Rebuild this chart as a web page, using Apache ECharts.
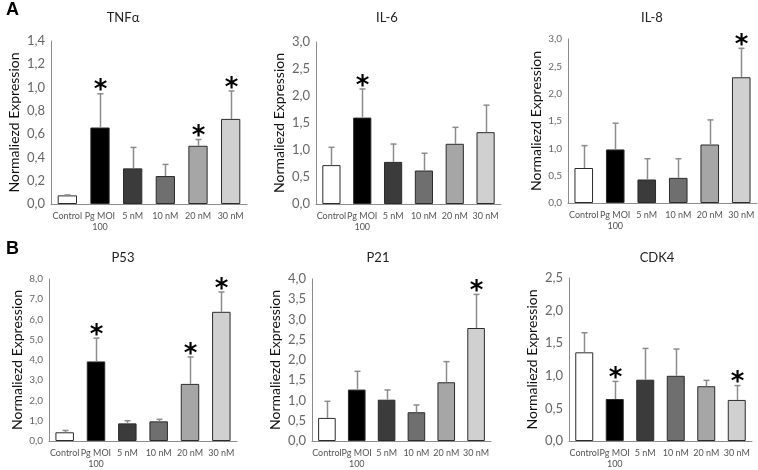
<!DOCTYPE html>
<html><head><meta charset="utf-8">
<script src="https://cdn.jsdelivr.net/npm/echarts@6/dist/echarts.min.js"></script>
<style>html,body{margin:0;padding:0;background:#fff}#c{width:758px;height:470px}</style>
</head><body><div id="c"></div>
<script>
const categories = ['Control', 'Pg MOI\n100', '5 nM', '10 nM', '20 nM', '30 nM'];
const barColors = ['#ffffff', '#000000', '#3b3b3b', '#6f6f6f', '#a6a6a6', '#d0d0d0'];

const tnfMean = [0.074, 0.657, 0.306, 0.24, 0.50, 0.731];
const tnfSd   = [0.004, 0.29, 0.18, 0.10, 0.054, 0.24];
const tnfSig  = [0, 1, 0, 0, 1, 1];

const il6Mean = [0.72, 1.60, 0.78, 0.62, 1.115, 1.33];
const il6Sd   = [0.33, 0.53, 0.33, 0.32, 0.305, 0.50];
const il6Sig  = [0, 1, 0, 0, 0, 0];

const il8Mean = [0.64, 0.98, 0.43, 0.46, 1.07, 2.30];
const il8Sd   = [0.41, 0.48, 0.38, 0.35, 0.45, 0.53];
const il8Sig  = [0, 0, 0, 0, 0, 1];

const p53Mean = [0.43, 3.93, 0.87, 0.97, 2.82, 6.38];
const p53Sd   = [0.09, 1.15, 0.13, 0.10, 1.33, 0.98];
const p53Sig  = [0, 1, 0, 0, 1, 1];

const p21Mean = [0.57, 1.27, 1.02, 0.71, 1.45, 2.79];
const p21Sd   = [0.41, 0.45, 0.24, 0.18, 0.51, 0.83];
const p21Sig  = [0, 0, 0, 0, 0, 1];

const cdk4Mean = [1.36, 0.644, 0.94, 1.00, 0.84, 0.63];
const cdk4Sd   = [0.30, 0.27, 0.48, 0.41, 0.09, 0.22];
const cdk4Sig  = [0, 1, 0, 0, 0, 1];

const panelTitles = ['TNFα', 'IL-6', 'IL-8', 'P53', 'P21', 'CDK4'];
const yMax = [1.4, 3.0, 3.0, 8.0, 4.0, 2.5];
const yInterval = [0.2, 0.5, 0.5, 1.0, 0.5, 0.5];
const yAxisName = 'Normaliezd Expression';

const panelData = [
  [tnfMean, tnfSd, tnfSig], [il6Mean, il6Sd, il6Sig], [il8Mean, il8Sd, il8Sig],
  [p53Mean, p53Sd, p53Sig], [p21Mean, p21Sd, p21Sig], [cdk4Mean, cdk4Sd, cdk4Sig]
];

// layout (pixels)
const grids = [
  {left: 51, top: 41, width: 196, height: 163},
  {left: 316, top: 42, width: 185, height: 162},
  {left: 568, top: 39, width: 189, height: 164},
  {left: 49, top: 279, width: 188, height: 163},
  {left: 312, top: 279, width: 179, height: 163},
  {left: 569, top: 278, width: 183, height: 164}
];
const tickFont = [13, 13, 10, 10, 13, 13];
const titlePos = [[123, 18], [387, 18], [652, 18], [123, 258], [378, 258], [657, 258]];
const FONT = 'Lato, "Open Sans", sans-serif';

const chart = echarts.init(document.getElementById('c'));
const option = {
  animation: false,
  backgroundColor: '#fff',
  grid: grids.map(g => Object.assign({containLabel: false}, g)),
  xAxis: grids.map((g, i) => ({
    type: 'category', gridIndex: i, data: categories,
    axisLine: {lineStyle: {color: '#8c8c8c', width: 1}},
    axisTick: {show: false},
    axisLabel: {interval: 0, fontSize: 9, color: '#555', fontFamily: FONT, lineHeight: 11, margin: 7}
  })),
  yAxis: grids.map((g, i) => ({
    type: 'value', gridIndex: i, min: 0, max: yMax[i], interval: yInterval[i],
    name: yAxisName, nameLocation: 'middle', nameGap: i === 2 || i === 3 ? 25 : 30,
    nameTextStyle: {fontSize: 14, color: '#111', fontFamily: FONT},
    axisLine: {show: true, lineStyle: {color: '#8c8c8c', width: 1}},
    axisTick: {show: false},
    splitLine: {show: false},
    axisLabel: {fontSize: tickFont[i], color: '#666', fontFamily: FONT, margin: 6,
      formatter: v => v.toFixed(1).replace('.', ',')}
  })),
  graphic: [
    {type: 'text', left: 6, top: 1, style: {text: 'A', font: 'bold 18px Arial, sans-serif', fill: '#000'}},
    {type: 'text', left: 6, top: 240, style: {text: 'B', font: 'bold 18px Arial, sans-serif', fill: '#000'}}
  ].concat(panelTitles.map((t, i) => ({
    type: 'text', x: titlePos[i][0], y: titlePos[i][1],
    style: {text: t, font: '13px ' + FONT, fill: '#222', textAlign: 'center', textVerticalAlign: 'middle'}
  }))),
  series: []
};

panelData.forEach((pd, i) => {
  const [mean, sd, sig] = pd;
  option.series.push({
    type: 'bar', xAxisIndex: i, yAxisIndex: i, barWidth: '59%',
    data: mean.map((v, k) => ({value: v, itemStyle: {color: barColors[k], borderColor: '#2b2b2b', borderWidth: 1}}))
  });
  option.series.push({
    type: 'custom', xAxisIndex: i, yAxisIndex: i, z: 3,
    data: mean.map((v, k) => [k, v, v + sd[k], sig[k]]),
    renderItem: function (params, api) {
      const x = api.value(0);
      const base = api.coord([x, api.value(1)]);
      const top = api.coord([x, api.value(2)]);
      const cx = Math.round(base[0]) + 0.5;
      const children = [
        {type: 'line', shape: {x1: cx, y1: base[1], x2: cx, y2: top[1]}, style: {stroke: '#8c8c8c', lineWidth: 1.5}},
        {type: 'line', shape: {x1: cx - 3, y1: top[1], x2: cx + 3, y2: top[1]}, style: {stroke: '#8c8c8c', lineWidth: 1.5}}
      ];
      if (api.value(3)) {
        children.push({type: 'text', style: {text: '*', x: cx, y: top[1] + 11, textAlign: 'center', textVerticalAlign: 'bottom',
          font: 'bold 26px "DejaVu Sans", sans-serif', fill: '#000'}});
      }
      return {type: 'group', children: children};
    }
  });
});
chart.setOption(option);
</script></body></html>
